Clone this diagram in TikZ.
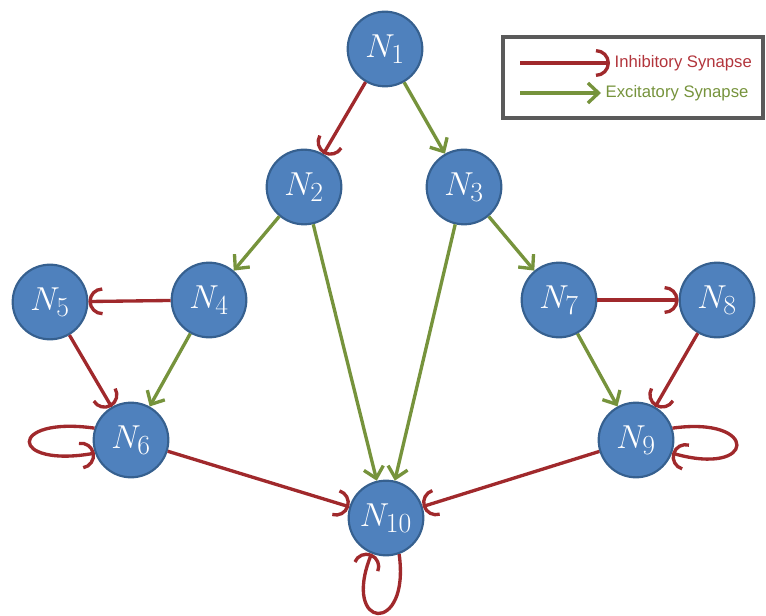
\documentclass[tikz,border=0pt]{standalone}
\usepackage{fontspec}
\setsansfont{Liberation Sans}
\definecolor{neuronblue}{HTML}{4F81BD}
\definecolor{neuronedge}{HTML}{36608F}
\definecolor{inhibred}{HTML}{A0292C}
\definecolor{inhibtext}{HTML}{B2353C}
\definecolor{excitgreen}{HTML}{76933C}
\definecolor{framegray}{HTML}{5A5A5A}
\usetikzlibrary{arrows.meta, positioning}

\begin{document}
\begin{tikzpicture}[x=0.75pt, y=-0.75pt,
  neuron/.style={circle, fill=neuronblue, draw=neuronedge, line width=1.6pt,
    minimum size=56pt, inner sep=0pt, text=white, font=\fontsize{29}{32}\selectfont},
  inhib/.style={draw=inhibred, line width=2.5pt, -{Arc Barb[arc=180, length=7pt, scale=1.5]}},
  excit/.style={draw=excitgreen, line width=2.5pt, -{Straight Barb[length=8pt, width=15pt]}},
  legtext/.style={anchor=west, font=\sffamily\fontsize{12.5}{14}\selectfont}]
  \useasboundingbox (0,0) rectangle (766,616);

  \foreach \name/\x/\y/\idx in {
    n1/385/49/1, n2/304/187/2, n3/464/187/3,
    n4/209/300/4, n5/50/302/5, n7/559/300/7, n8/717/300/8,
    n6/131/440/6, n9/636/440/9, n10/386/518/10} {
    \node[neuron] (\name) at (\x,\y) {$N_{\idx}$};
  }

  \foreach \a/\b in {n1/n3, n2/n4, n2/n10, n3/n10, n3/n7, n4/n6, n7/n9}
    \draw[excit] (\a) -- (\b);
  \foreach \a/\b in {n1/n2, n4/n5, n5/n6, n7/n8, n8/n9, n6/n10, n9/n10}
    \draw[inhib] (\a) -- (\b);

  % self loops
  \draw[inhib] (n6.162) .. controls +(172:66pt) and +(190:66pt) .. (n6.200);
  \draw[inhib] (n9.18) .. controls +(8:66pt) and +(-16:66pt) .. (n9.-20);
  \draw[inhib] (n10.-70) .. controls +(-82:62pt) and +(-112:62pt) .. (n10.-112);

  % legend
  \draw[framegray, line width=3pt] (503,37) rectangle (763,118);
  \node[legtext, text=inhibtext] (inhlab) at (610,63) {Inhibitory Synapse};
  \node[legtext, text=excitgreen] (exclab) at (601,93) {Excitatory Synapse};
  \coordinate (inhstart) at (520,63);
  \coordinate (excstart) at (520,93);
  \draw[inhib] (inhstart) -- (inhlab.west);
  \draw[excit] (excstart) -- (exclab.west);
\end{tikzpicture}
\end{document}
